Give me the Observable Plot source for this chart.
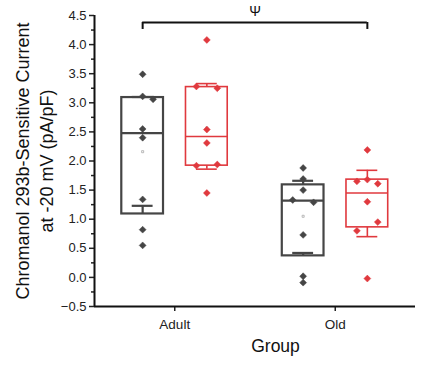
<!DOCTYPE html>
<html>
<head>
<meta charset="utf-8">
<script src="https://cdn.jsdelivr.net/npm/d3@7"></script>
<script src="https://cdn.jsdelivr.net/npm/@observablehq/plot@0.6"></script>
<style>
  html, body { margin: 0; padding: 0; background: #fff; }
  #chart { width: 422px; height: 371px; }
</style>
</head>
<body>
<div id="chart"></div>
<script>
// ---- data ----
const groups = ["Adult", "Old"];
const series = ["Series 1", "Series 2"];

// individual points per box; jitter = left/center/right slot
const adultS1 = [3.49, 3.11, 3.06, 2.55, 2.40, 1.34, 0.82, 0.55];
const adultS1Jitter = [0, 0, 1, 0, 0, 0, 0, 0];
const adultS2 = [4.08, 3.28, 3.25, 2.54, 2.31, 1.92, 1.94, 1.45];
const adultS2Jitter = [0, -1, 1, 0, 0, -1, 1, 0];
const oldS1 = [1.88, 1.69, 1.50, 1.33, 1.29, 0.73, 0.02, -0.09];
const oldS1Jitter = [0, 0, 0, -1, 1, 0, 0, 0];
const oldS2 = [2.19, 1.68, 1.65, 1.61, 1.30, 0.95, 0.80, -0.02];
const oldS2Jitter = [0, 0, -1, 1, 0, 1, -1, 0];

// box statistics, order: Adult-S1, Adult-S2, Old-S1, Old-S2
const boxQ1 = [1.09, 1.92, 0.37, 0.86];
const boxMedian = [2.48, 2.42, 1.32, 1.45];
const boxQ3 = [3.09, 3.27, 1.59, 1.68];
const whiskerLow = [1.23, 1.86, 0.42, 0.70];
const whiskerHigh = [3.10, 3.33, 1.66, 1.84];
const boxMean = [2.16, 2.57, 1.05, null];

const yTicks = [-0.5, 0.0, 0.5, 1.0, 1.5, 2.0, 2.5, 3.0, 3.5, 4.0, 4.5];
const yMinorTicks = [-0.25, 0.25, 0.75, 1.25, 1.75, 2.25, 2.75, 3.25, 3.75, 4.25];

const bracketFrom = ["Adult", "Series 1"];
const bracketTo = ["Old", "Series 2"];
const bracketY = 4.38;
const bracketLabel = "Ψ";

const yLabel = "Chromanol 293b-Sensitive Current\nat -20 mV (pA/pF)";
const xLabel = "Group";

// ---- build tables ----
const seriesOffset = [-0.2, 0.2];
const boxHalf = 0.13;
const capHalf = 0.065;
const jitterStep = 0.065;
const xOf = (g, s) => groups.indexOf(g) + 1 + seriesOffset[series.indexOf(s)];

const pointSets = [
  ["Adult", series[0], adultS1, adultS1Jitter],
  ["Adult", series[1], adultS2, adultS2Jitter],
  ["Old", series[0], oldS1, oldS1Jitter],
  ["Old", series[1], oldS2, oldS2Jitter]
];
const points = [];
pointSets.forEach(([g, s, vals, jit]) => {
  vals.forEach((v, i) => points.push({g, s, v, x: xOf(g, s) + jit[i] * jitterStep}));
});

const boxes = [];
groups.forEach((g, gi) => series.forEach((s, si) => {
  const k = gi * 2 + si;
  boxes.push({g, s, x: xOf(g, s), q1: boxQ1[k], med: boxMedian[k], q3: boxQ3[k],
    wlo: whiskerLow[k], whi: whiskerHigh[k], mean: boxMean[k]});
}));

const bx1 = xOf(...bracketFrom), bx2 = xOf(...bracketTo);
const bracket = [{x1: bx1, x2: bx2, y: bracketY, label: bracketLabel}];
const bracketDrops = [{x: bx1}, {x: bx2}];

const gray = "#454545";
const red = "#e0393e";
const sw = d => d.s === series[0] ? 2.2 : 1.6;

const chart = Plot.plot({
  width: 422,
  height: 371,
  marginLeft: 94,
  marginRight: 7,
  marginTop: 15,
  marginBottom: 65,
  style: {fontFamily: "'Liberation Sans', Arial, sans-serif", fontSize: "13px", color: "#222", background: "#fff"},
  x: {type: "linear", domain: [0.5, 2.5]},
  y: {domain: [-0.5, 4.5]},
  color: {type: "ordinal", domain: series, range: [gray, red]},
  marks: [
    // boxes
    Plot.rect(boxes, {x1: d => d.x - boxHalf, x2: d => d.x + boxHalf, y1: "q1", y2: "q3",
      fill: "white", stroke: "s", strokeWidth: sw}),
    // whisker stems
    Plot.ruleX(boxes, {x: "x", y1: "wlo", y2: "q1", stroke: "s", strokeWidth: sw}),
    Plot.ruleX(boxes, {x: "x", y1: "q3", y2: "whi", stroke: "s", strokeWidth: sw}),
    // whisker caps
    Plot.ruleY(boxes, {y: "wlo", x1: d => d.x - capHalf, x2: d => d.x + capHalf, stroke: "s", strokeWidth: sw}),
    Plot.ruleY(boxes, {y: "whi", x1: d => d.x - capHalf, x2: d => d.x + capHalf, stroke: "s", strokeWidth: sw}),
    // medians
    Plot.ruleY(boxes, {y: "med", x1: d => d.x - boxHalf, x2: d => d.x + boxHalf, stroke: "s", strokeWidth: sw}),
    // means (tiny marker)
    Plot.dot(boxes.filter(d => d.mean != null), {x: "x", y: "mean", symbol: "square2", r: 1.3,
      stroke: "#aaa", strokeWidth: 0.8, fill: "none"}),
    // points
    Plot.dot(points, {x: "x", y: "v", symbol: "diamond2", r: 3.1, fill: "s", stroke: "s", strokeWidth: 0.5}),
    // axes
    Plot.axisY(yTicks, {tickSize: 5, tickPadding: 3, tickFormat: d3.format(".1f"), strokeWidth: 1.5, label: null, fontSize: 13}),
    Plot.axisY(yMinorTicks, {tickSize: 3, tickFormat: () => "", strokeWidth: 1.5, label: null}),
    Plot.axisX([1, 2], {tickSize: 5, tickPadding: 8, tickFormat: d => groups[d - 1], strokeWidth: 1.5, label: null, fontSize: 13.5}),
    Plot.ruleX([0.5], {stroke: "#111", strokeWidth: 2}),
    Plot.ruleY([-0.5], {stroke: "#111", strokeWidth: 2}),
    // significance bracket
    Plot.ruleY(bracket, {y: "y", x1: "x1", x2: "x2", stroke: "#111", strokeWidth: 2}),
    Plot.ruleX(bracketDrops, {x: "x", y1: bracketY, y2: bracketY - 0.12, stroke: "#111", strokeWidth: 2}),
    Plot.text(bracket, {x: d => (d.x1 + d.x2) / 2, y: "y", text: "label", dy: -11, fontSize: 14, fill: "#111"}),
    // axis titles
    Plot.text([yLabel], {text: d => d, frameAnchor: "left", textAnchor: "middle", dx: -61, rotate: -90, fontSize: 18, lineHeight: 1.33, fill: "#111"}),
    Plot.text([xLabel], {text: d => d, frameAnchor: "bottom", textAnchor: "middle", dx: 20.5, dy: 45, fontSize: 17.5, fill: "#111"})
  ]
});
document.getElementById("chart").appendChild(chart);
</script>
</body>
</html>
